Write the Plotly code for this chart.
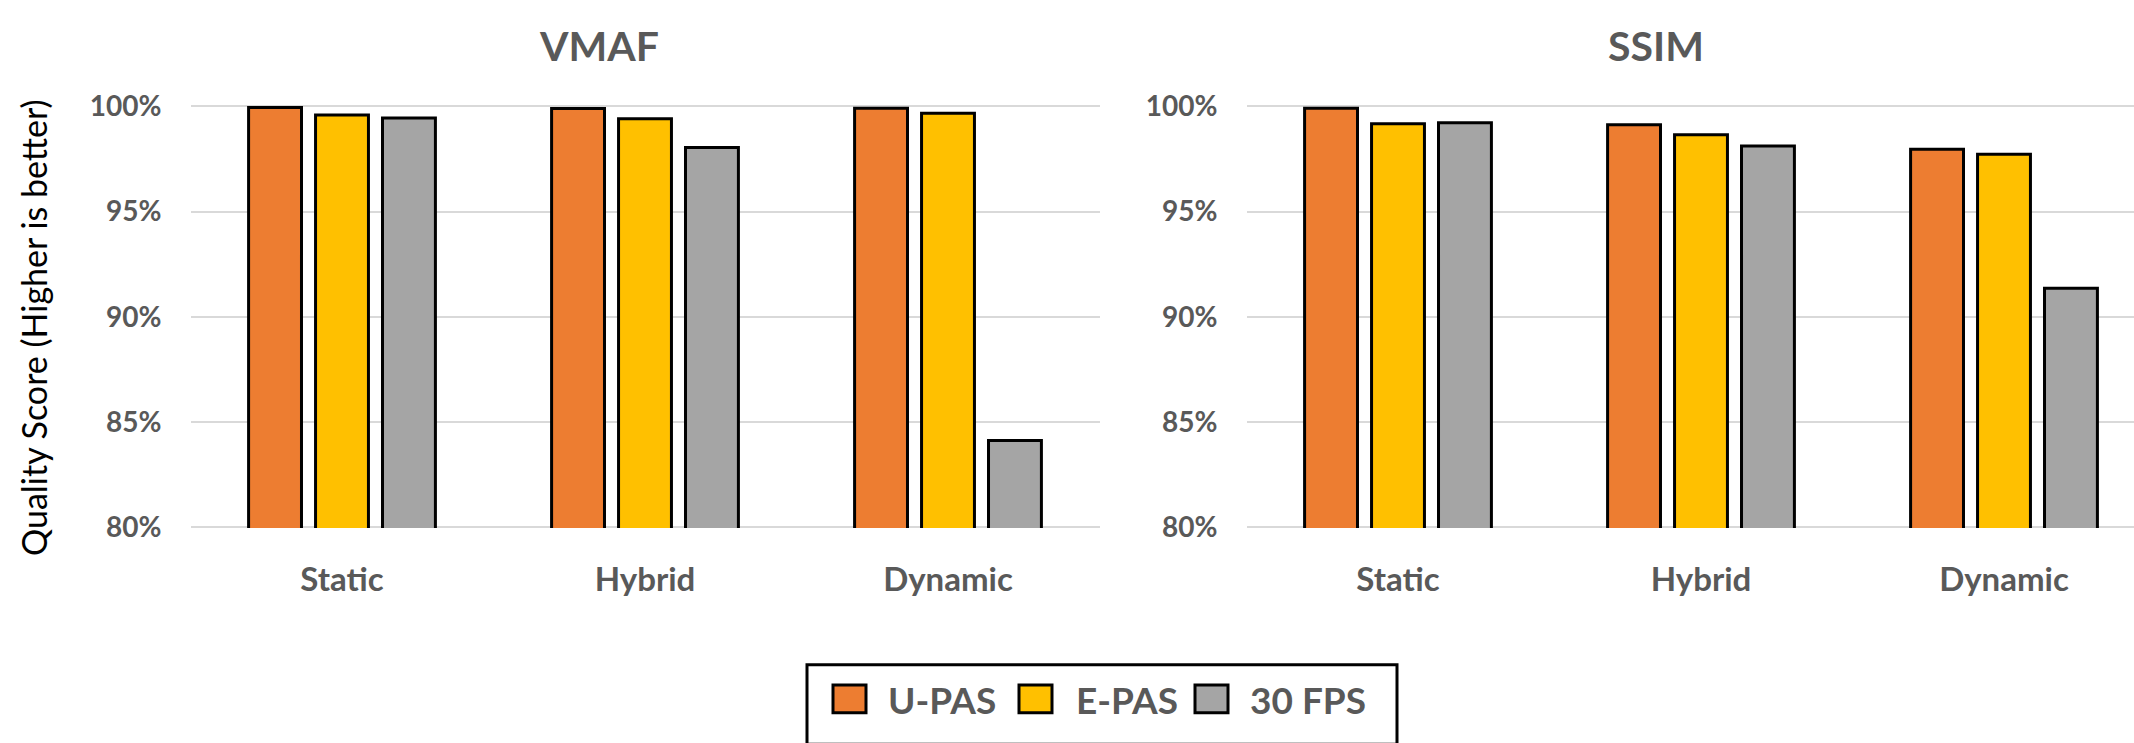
import plotly.graph_objects as go

# ---- data -------------------------------------------------------------
categories = ["Static", "Hybrid", "Dynamic"]
series_names = ["U-PAS", "E-PAS", "30 FPS"]
series_colors = ["#ED7D31", "#FFC000", "#A5A5A5"]

vmaf_upas = [99.95, 99.90, 99.91]
vmaf_epas = [99.60, 99.42, 99.68]
vmaf_30fps = [99.45, 98.05, 84.12]

ssim_upas = [99.91, 99.13, 97.96]
ssim_epas = [99.18, 98.66, 97.73]
ssim_30fps = [99.22, 98.12, 91.35]

y_ticks = [80, 85, 90, 95, 100]
y_tick_labels = [f"<b>{v}%</b>" for v in y_ticks]

# ---- canvas geometry ----------------------------------------------------
W, H = 2134, 743
GRAY_TEXT = "#595959"
FONT = "Lato"
PX_PER_UNIT = 22.0  # vertical pixels per percentage point
PAD = 0.05          # small range padding so the edge gridlines are drawn


def px(x):
    return x / W


def py(y):
    return 1 - y / H


fig = go.Figure()

panels = [
    ("x", "y", [vmaf_upas, vmaf_epas, vmaf_30fps]),
    ("x2", "y2", [ssim_upas, ssim_epas, ssim_30fps]),
]
for xa, ya, values in panels:
    for name, color, vals in zip(series_names, series_colors, values):
        fig.add_trace(go.Bar(
            x=categories, y=vals, name=name, xaxis=xa, yaxis=ya,
            marker=dict(color=color, line=dict(color="black", width=3)),
            showlegend=False, hoverinfo="x+y+name",
        ))

y_dom = [py(533 + PAD * PX_PER_UNIT), py(93.5 - PAD * PX_PER_UNIT)]
yaxis_common = dict(
    range=[80 - PAD, 100 + PAD], tickmode="array",
    tickvals=y_ticks, ticktext=y_tick_labels,
    showgrid=True, gridcolor="#D9D9D9", gridwidth=2,
    zeroline=False, showline=False, ticks="",
    ticklabelstandoff=28,
    tickfont=dict(family=FONT, size=28, color=GRAY_TEXT),
    domain=y_dom, fixedrange=True,
)
xaxis_common = dict(
    type="category", showgrid=False, zeroline=False, showline=False,
    ticks="", ticklabelstandoff=29,
    tickfont=dict(family=FONT, size=33, color=GRAY_TEXT, weight="bold"),
    fixedrange=True,
)

fig.update_layout(
    width=W, height=H,
    margin=dict(l=0, r=0, t=0, b=0),
    paper_bgcolor="white", plot_bgcolor="white",
    barmode="group", bargap=0.337, bargroupgap=0.21,
    xaxis=dict(**xaxis_common, domain=[px(190.5), px(1099.5)],
               range=[-0.5, 2.5], anchor="y"),
    yaxis=dict(**yaxis_common, anchor="x"),
    xaxis2=dict(**xaxis_common, domain=[px(1246.5), 1.0],
                range=[-0.5, -0.5 + (W - 1246.5) / 303.0], anchor="y2"),
    yaxis2=dict(**yaxis_common, anchor="x2"),
    showlegend=False,
)

annotations = []
# panel titles
for text, cx in [("VMAF", 599), ("SSIM", 1656)]:
    annotations.append(dict(
        text=f"<b>{text}</b>", x=px(cx), y=py(30), xref="paper", yref="paper",
        xanchor="center", yanchor="middle", showarrow=False,
        font=dict(family=FONT, size=41, color=GRAY_TEXT),
    ))

# shared y-axis title
annotations.append(dict(
    text="Quality Score (Higher is better)", textangle=-90,
    x=px(33), y=py(325), xref="paper", yref="paper",
    xanchor="center", yanchor="middle", showarrow=False,
    font=dict(family=FONT, size=34, color="black"),
))

# legend box with swatches
shapes = [dict(
    type="rect", xref="paper", yref="paper",
    x0=px(807), x1=px(1397), y0=py(760), y1=py(677),
    line=dict(color="black", width=3), fillcolor="rgba(0,0,0,0)",
)]
swatch_left = [833, 1019, 1195]
label_left = [886, 1074, 1248]
for name, color, sx, lx in zip(series_names, series_colors, swatch_left, label_left):
    shapes.append(dict(
        type="rect", xref="paper", yref="paper",
        x0=px(sx), x1=px(sx + 33), y0=py(727), y1=py(698),
        line=dict(color="black", width=3), fillcolor=color,
    ))
    annotations.append(dict(
        text=f"<b>{name}</b>", x=px(lx), y=py(713), xref="paper", yref="paper",
        xanchor="left", yanchor="middle", showarrow=False,
        font=dict(family=FONT, size=37, color=GRAY_TEXT),
    ))

fig.update_layout(annotations=annotations, shapes=shapes)

fig.write_html("out.html", config={"displayModeBar": False})
